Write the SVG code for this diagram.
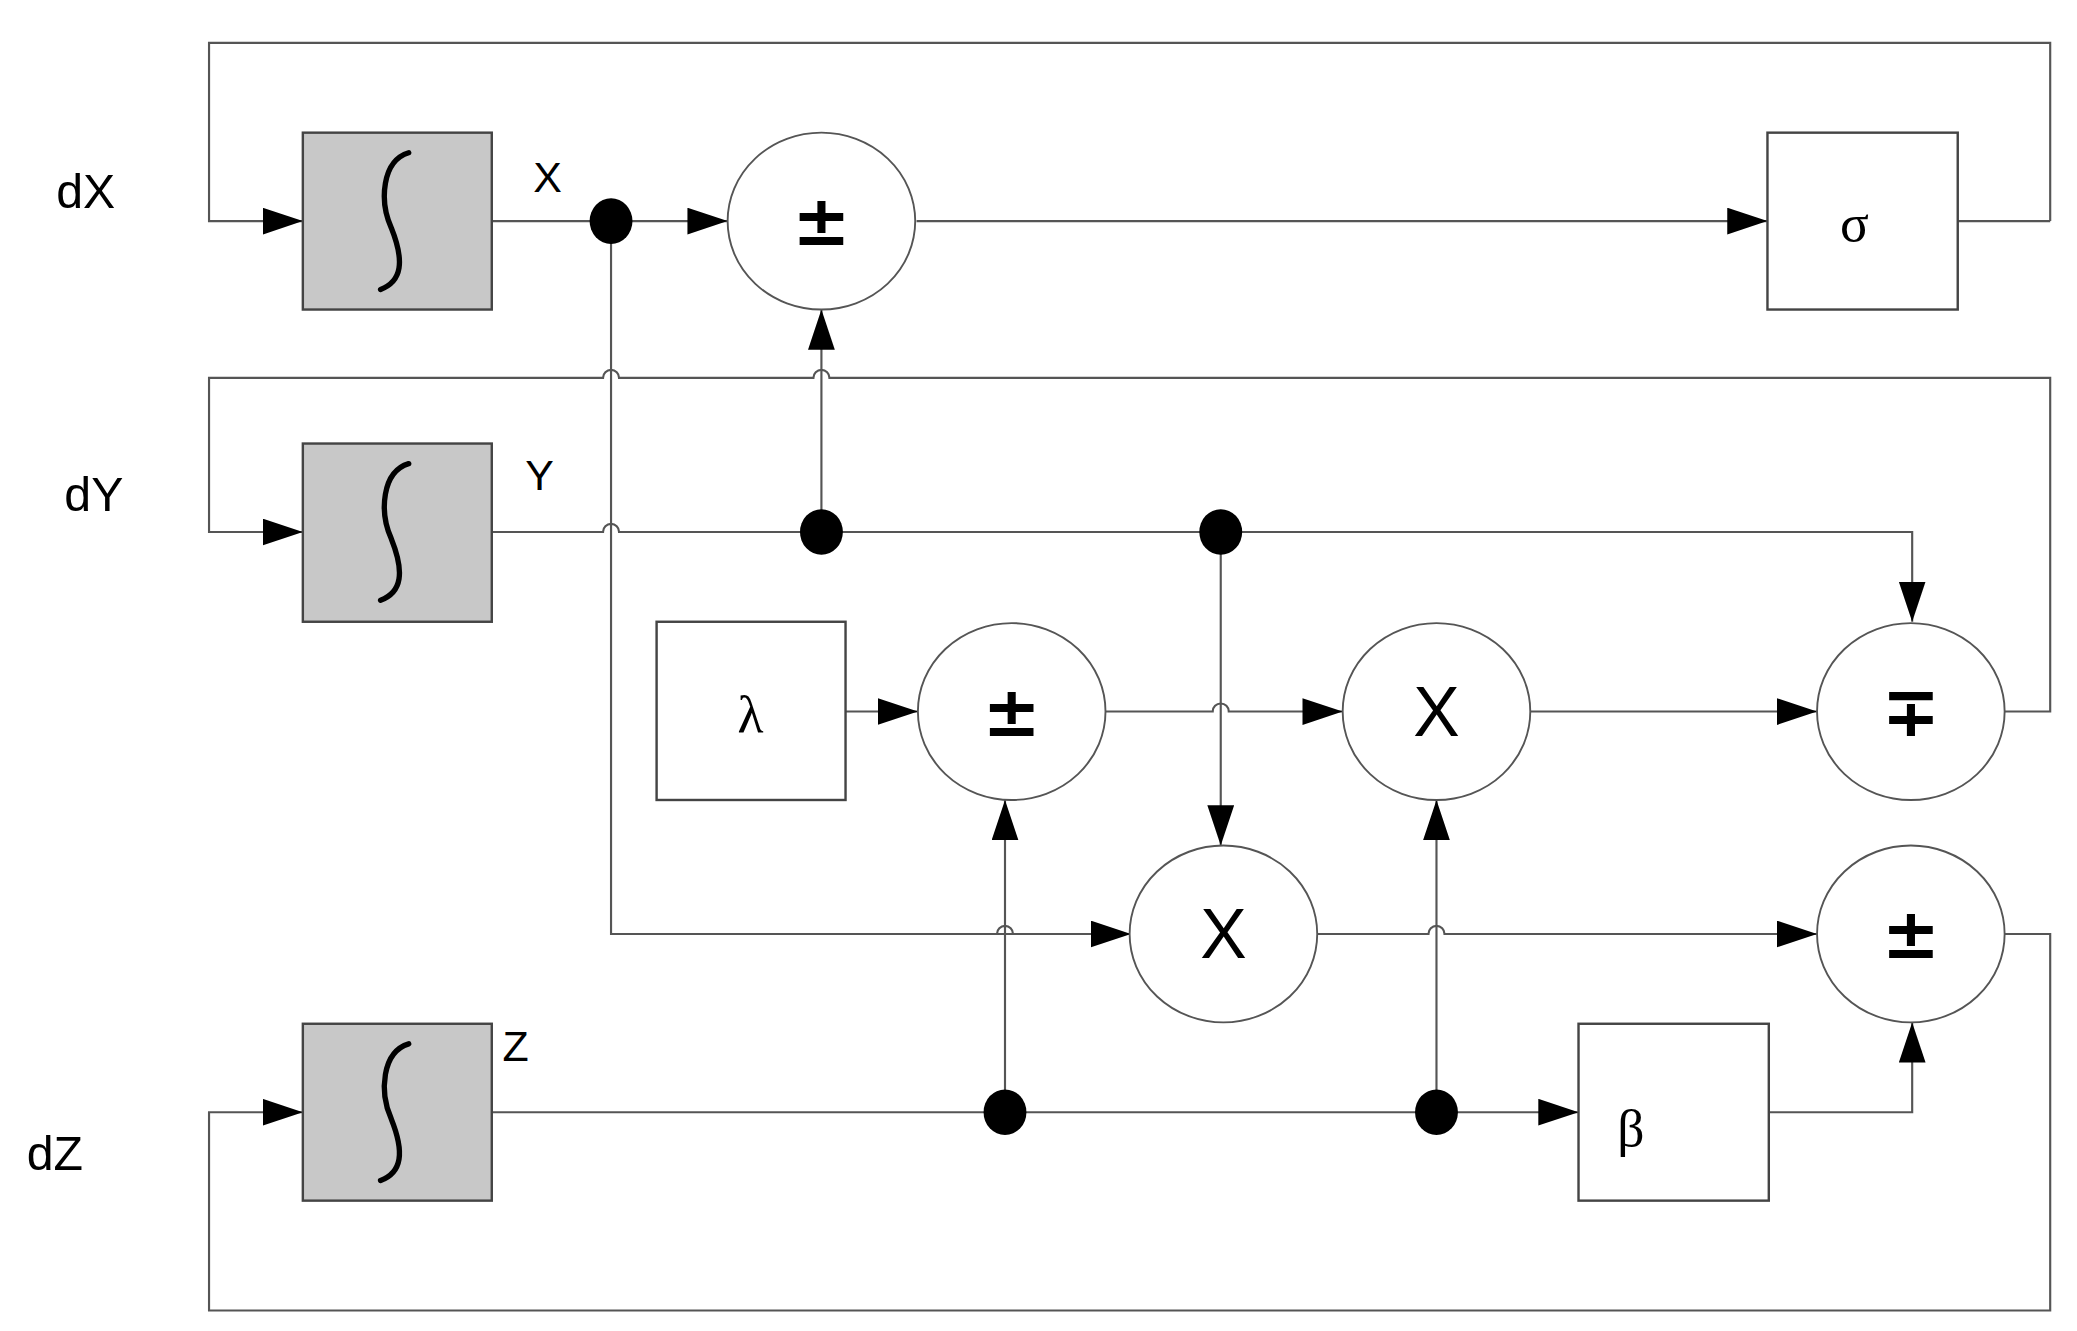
<svg xmlns="http://www.w3.org/2000/svg" width="2077" height="1331" viewBox="0 0 2077 1331">
<style>
.w{fill:none;stroke:#555;stroke-width:1.6}
.a{marker-end:url(#ah)}
.box{fill:#fff;stroke:#444;stroke-width:1.8}
.int{fill:#c8c8c8;stroke:#444;stroke-width:1.8}
.c{fill:#fff;stroke:#555;stroke-width:1.4}
.dot{fill:#000}
.t{font-family:"Liberation Sans",Arial,sans-serif;fill:#000}
.s{font-family:"DejaVu Sans","Liberation Sans",sans-serif;font-weight:bold;fill:#000;text-anchor:middle}
.g{font-family:"Liberation Serif",serif;fill:#000;text-anchor:middle}
.x{font-family:"Liberation Sans",sans-serif;fill:#000;text-anchor:middle;font-size:52px}
</style>
<defs>
<marker id="ah" markerUnits="userSpaceOnUse" markerWidth="32" markerHeight="22" refX="30" refY="10" orient="auto" viewBox="0 0 32 22"><path d="M0,0 L30,10 L0,20 Z" fill="#000"/></marker>
</defs>
<rect width="2077" height="1331" fill="#fff"/>
<g transform="scale(1.34)">
<g id="connectors">
<path class="w a" d="M1530,165 V32 H156 V165 H226"/>
<path class="w a" d="M367,165 H543"/>
<path class="w a" d="M684,165 H1319"/>
<path class="w" d="M1461,165 H1530"/>
<path class="w a" d="M1496,531 H1530 V282 H619 a6,6 0 0 0 -12,0 H462 a6,6 0 0 0 -12,0 H156 V397 H226"/>
<path class="w a" d="M367,397 H450 a6,6 0 0 1 12,0 H1427 V464"/>
<path class="w a" d="M456,165 V697 H844"/>
<path class="w a" d="M613,397 V231"/>
<path class="w a" d="M911,397 V631"/>
<path class="w a" d="M631,531 H685"/>
<path class="w a" d="M825,531 H905 a6,6 0 0 1 12,0 H1002"/>
<path class="w a" d="M1142,531 H1356"/>
<path class="w a" d="M983,697 H1066 a6,6 0 0 1 12,0 H1356"/>
<path class="w a" d="M750,830 V597"/>
<path class="w" d="M456,697 H744 a6,6 0 0 1 12,0 H790"/>
<path class="w a" d="M1072,830 V597"/>
<path class="w a" d="M367,830 H1178"/>
<path class="w a" d="M1320,830 H1427 V763"/>
<path class="w a" d="M1496,697 H1530 V978 H156 V830 H226"/>
</g>
<g id="intX"><rect class="int" x="226" y="99" width="141" height="132"/><path d="M305,114 C285,120 283,150 292,170 C302,195 300,210 284,216" fill="none" stroke="#000" stroke-width="4" stroke-linecap="round"/></g>
<g id="intY"><rect class="int" x="226" y="331" width="141" height="133"/><path d="M305,346 C285,352 283,382 292,402 C302,427 300,442 284,448" fill="none" stroke="#000" stroke-width="4" stroke-linecap="round"/></g>
<g id="intZ"><rect class="int" x="226" y="764" width="141" height="132"/><path d="M305,779 C285,785 283,815 292,835 C302,860 300,875 284,881" fill="none" stroke="#000" stroke-width="4" stroke-linecap="round"/></g>
<g id="labels">
<text class="t" x="42" y="155" font-size="36">dX</text>
<text class="t" x="48" y="381" font-size="36">dY</text>
<text class="t" x="20" y="873" font-size="36">dZ</text>
<text class="t" x="398" y="143" font-size="32">X</text>
<text class="t" x="392" y="366" font-size="32">Y</text>
<text class="t" x="375" y="792" font-size="32">Z</text>
</g>
<g id="sum1"><ellipse class="c" cx="613" cy="165" rx="70" ry="66"/><text class="s" x="613" y="183" font-size="52">±</text></g>
<g id="sigma"><rect class="box" x="1319" y="99" width="142" height="132"/><text class="g" x="1384" y="180" font-size="40">σ</text></g>
<g id="lambda"><rect class="box" x="490" y="464" width="141" height="133"/><text class="g" x="560" y="546" font-size="40">λ</text></g>
<g id="sum2"><ellipse class="c" cx="755" cy="531" rx="70" ry="66"/><text class="s" x="755" y="549" font-size="52">±</text></g>
<g id="mul1"><ellipse class="c" cx="1072" cy="531" rx="70" ry="66"/><text class="x" x="1072" y="549">X</text></g>
<g id="sum3"><ellipse class="c" cx="1426" cy="531" rx="70" ry="66"/><text class="s" x="1426" y="549" font-size="52">∓</text></g>
<g id="mul2"><ellipse class="c" cx="913" cy="697" rx="70" ry="66"/><text class="x" x="913" y="715">X</text></g>
<g id="sum4"><ellipse class="c" cx="1426" cy="697" rx="70" ry="66"/><text class="s" x="1426" y="715" font-size="52">±</text></g>
<g id="beta"><rect class="box" x="1178" y="764" width="142" height="132"/><text class="g" x="1217" y="855" font-size="40">β</text></g>
<g id="dots">
<ellipse class="dot" cx="456" cy="165" rx="16" ry="17"/>
<ellipse class="dot" cx="613" cy="397" rx="16" ry="17"/>
<ellipse class="dot" cx="911" cy="397" rx="16" ry="17"/>
<ellipse class="dot" cx="750" cy="830" rx="16" ry="17"/>
<ellipse class="dot" cx="1072" cy="830" rx="16" ry="17"/>
</g>
</g>
</svg>
